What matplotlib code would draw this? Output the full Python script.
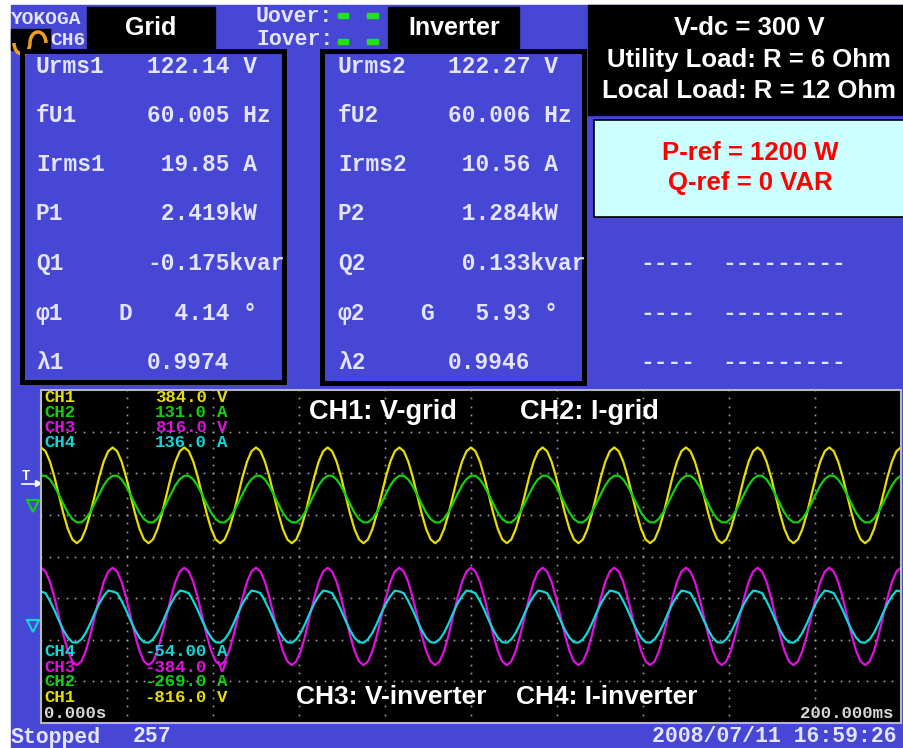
import numpy as np
import matplotlib
matplotlib.use('Agg')
import matplotlib.pyplot as plt
from matplotlib.patches import Rectangle, Arc

# Colours of the power analyzer screen
BLUE = '#4747d5'
TXT = '#e4e4ff'
YEL = '#e6de00'
GRN = '#10d010'
MAG = '#e010e0'
CYN = '#10d8d8'

grid_labels = ['Urms1', 'fU1', 'Irms1', 'P1', 'Q1', 'φ1', 'λ1']
grid_values = ['122.14 V', '60.005 Hz', ' 19.85 A', ' 2.419kW', '-0.175kvar', '  4.14 °', '0.9974']
inv_labels = ['Urms2', 'fU2', 'Irms2', 'P2', 'Q2', 'φ2', 'λ2']
inv_values = ['122.27 V', '60.006 Hz', ' 10.56 A', ' 1.284kW', ' 0.133kvar', '  5.93 °', '0.9946']
row_y = [66, 115, 164, 213, 263, 313, 362]

# Scope channel scale labels
ch_names = ['CH1', 'CH2', 'CH3', 'CH4']
ch_colors = [YEL, GRN, MAG, CYN]
ch_top_values = ['384.0', '131.0', '816.0', '136.0']
ch_units = ['V', 'A', 'V', 'A']
bottom_names = ['CH4', 'CH3', 'CH2', 'CH1']
bottom_colors = [CYN, MAG, GRN, YEL]
bottom_values = ['-54.00', '-384.0', '-269.0', '-816.0']
bottom_units = ['A', 'V', 'A', 'V']

# One cycle of each trace, 16 samples from the screen (vertical divisions)
ch1_cycle = [2.62, 2.53, 2.28, 1.91, 1.47, 1.03, 0.66, 0.41, 0.32, 0.41, 0.66, 1.03, 1.47, 1.91, 2.28, 2.53]
ch2_cycle = [1.94, 1.94, 1.85, 1.69, 1.48, 1.26, 1.05, 0.90, 0.82, 0.82, 0.91, 1.07, 1.28, 1.50, 1.71, 1.86]
ch3_cycle = [-0.27, -0.36, -0.61, -0.99, -1.44, -1.89, -2.27, -2.52, -2.61, -2.52, -2.27, -1.89, -1.44, -0.99, -0.61, -0.36]
ch4_cycle = [-0.84, -0.88, -1.07, -1.29, -1.54, -1.77, -1.95, -2.06, -2.07, -1.99, -1.83, -1.61, -1.36, -1.13, -0.95, -0.82]
period_ms = 16.665   # 60.005 Hz
n_cycles = 13

fig = plt.figure(figsize=(9.04, 7.48), dpi=100)

# background axes in pixel coordinates
bg = fig.add_axes([0, 0, 1, 1])
bg.set_xlim(0, 904)
bg.set_ylim(748, 0)
bg.axis('off')
bg.add_patch(Rectangle((11, 5), 893, 743, color=BLUE))

# header
bg.add_patch(Rectangle((11, 29), 39, 21, color='black'))
bg.add_patch(Arc((22, 43), 16, 22, theta1=0, theta2=180, color='#f0a020', lw=2.5))
bg.add_patch(Arc((38, 43), 16, 22, theta1=180, theta2=360, color='#f0a020', lw=2.5))
bg.text(11, 19, 'YOKOGA', family='Liberation Mono', weight='bold', fontsize=14, color=TXT, va='center')
bg.text(50, 40, 'CH6', family='Liberation Mono', weight='bold', fontsize=14, color=TXT, va='center')
bg.text(256, 16, 'Uover:', family='Liberation Mono', weight='bold', fontsize=15.5, color=TXT, va='center')
bg.text(256, 39, 'Iover:', family='Liberation Mono', weight='bold', fontsize=15.5, color=TXT, va='center')
for yy in [13, 39]:
    bg.add_patch(Rectangle((338, yy), 10, 5, color='#20e020'))
    bg.add_patch(Rectangle((367, yy), 11, 5, color='#20e020'))

bg.add_patch(Rectangle((87, 7), 128, 41, color='black'))
bg.text(151, 28, 'Grid', family='Liberation Sans', weight='bold', fontsize=18, color='white', ha='center', va='center')
bg.add_patch(Rectangle((388, 7), 131, 41, color='black'))
bg.text(454, 28, 'Inverter', family='Liberation Sans', weight='bold', fontsize=18, color='white', ha='center', va='center')

# top right info box
bg.add_patch(Rectangle((588, 5), 316, 110, color='black'))
info = ['V-dc = 300 V', 'Utility Load: R = 6 Ohm', 'Local Load: R = 12 Ohm']
for txt, yy in zip(info, [28, 60, 91]):
    bg.text(749, yy, txt, family='Liberation Sans', weight='bold', fontsize=18.5, color='white', ha='center', va='center')

bg.add_patch(Rectangle((594, 120), 312, 97, fc='#ccffff', ec='black', lw=1.2))
bg.text(750, 153, 'P-ref = 1200 W', family='Liberation Sans', weight='bold', fontsize=18.5, color='#ff0000', ha='center', va='center')
bg.text(750, 183, 'Q-ref = 0 VAR', family='Liberation Sans', weight='bold', fontsize=18.5, color='#ff0000', ha='center', va='center')

# empty rows on the right
for yy in row_y[4:]:
    bg.text(640, yy, '----', family='Liberation Mono', weight='bold', fontsize=16.5, color=TXT, va='center')
    bg.text(722, yy, '---------', family='Liberation Mono', weight='bold', fontsize=16.5, color=TXT, va='center')

# measurement tables
for x_lab, x_val, labels, values in [(36, 147, grid_labels, grid_values), (338, 448, inv_labels, inv_values)]:
    for lab, val, yy in zip(labels, values, row_y):
        bg.text(x_lab, yy, lab, family='Liberation Mono', weight='bold', fontsize=16.5, color=TXT, va='center')
        bg.text(x_val, yy, val, family='Liberation Mono', weight='bold', fontsize=16.5, color=TXT, va='center')
bg.text(125, 313, 'D', family='Liberation Mono', weight='bold', fontsize=16.5, color=TXT, ha='center', va='center')
bg.text(427, 313, 'G', family='Liberation Mono', weight='bold', fontsize=16.5, color=TXT, ha='center', va='center')

# thick black frames around the tables
bg.add_patch(Rectangle((22.5, 50.5), 262, 331, fill=False, ec='black', lw=3.6))
bg.add_patch(Rectangle((322.5, 50.5), 262, 332, fill=False, ec='black', lw=3.6))

# status line
bg.text(11, 737, 'Stopped', family='Liberation Mono', weight='bold', fontsize=15.5, color=TXT, va='center')
bg.text(133, 737, '257', family='Liberation Mono', weight='bold', fontsize=15.5, color=TXT, va='center')
bg.text(897, 737, '2008/07/11 16:59:26', family='Liberation Mono', weight='bold', fontsize=15.5, color=TXT, ha='right', va='center')

# ground / trigger markers left of the scope
bg.text(22, 476, 'T', family='Liberation Mono', weight='bold', fontsize=10, color='white', va='center')
bg.plot([22, 38], [484, 484], color='white', lw=1.2)
bg.plot([38], [483], marker='>', color='white', markersize=5)
for yy, c in [(503, GRN), (623, CYN)]:
    bg.plot([27, 39], [yy - 3, yy - 3], color=c, lw=1.5)
    bg.plot([33], [yy + 3], marker='v', mfc='none', mec=c, markersize=8, mew=1.5)

# scope screen
sc = fig.add_axes([41 / 904, (748 - 723) / 748, 860 / 904, 333 / 748])
sc.set_facecolor('black')
sc.set_xlim(0, 200)
sc.set_ylim(-4, 4)
sc.set_xticks([])
sc.set_yticks([])
for s in sc.spines.values():
    s.set_color('#b8b8b8')
    s.set_linewidth(1.5)

# dotted graticule
dot_x = np.arange(0, 200.1, 2)
for yv in range(-3, 4):
    sc.plot(dot_x, np.full(len(dot_x), yv), ls='none', marker='s', markersize=1.2, mew=0, color='#a0a0a0')
dot_y = np.arange(-4, 4.01, 0.2)
for xv in range(20, 200, 20):
    sc.plot(np.full(len(dot_y), xv), dot_y, ls='none', marker='s', markersize=1.2, mew=0, color='#a0a0a0')

# traces
n = 16 * 12 + 1
t = np.arange(n) * period_ms / 16
for cyc, c in [(ch1_cycle, YEL), (ch2_cycle, GRN), (ch3_cycle, MAG), (ch4_cycle, CYN)]:
    sc.plot(t, np.tile(cyc, n_cycles)[:n], color=c, lw=1.6)

# overlay for text written on the scope
ov = fig.add_axes([0, 0, 1, 1])
ov.set_xlim(0, 904)
ov.set_ylim(748, 0)
ov.axis('off')
ov.patch.set_visible(False)

for name, c, val, unit, yy in zip(ch_names, ch_colors, ch_top_values, ch_units, [397, 412, 427, 442]):
    ov.text(44, yy, name, family='Liberation Mono', weight='bold', fontsize=12.5, color=c, va='center')
    ov.text(207, yy, val, family='Liberation Mono', weight='bold', fontsize=12.5, color=c, ha='right', va='center')
    ov.text(217, yy, unit, family='Liberation Mono', weight='bold', fontsize=12.5, color=c, va='center')
for name, c, val, unit, yy in zip(bottom_names, bottom_colors, bottom_values, bottom_units, [652, 667, 682, 697]):
    ov.text(44, yy, name, family='Liberation Mono', weight='bold', fontsize=12.5, color=c, va='center')
    ov.text(207, yy, val, family='Liberation Mono', weight='bold', fontsize=12.5, color=c, ha='right', va='center')
    ov.text(217, yy, unit, family='Liberation Mono', weight='bold', fontsize=12.5, color=c, va='center')
ov.text(44, 713, '0.000s', family='Liberation Mono', weight='bold', fontsize=12.5, color='#d8d8d8', va='center')
ov.text(893, 713, '200.000ms', family='Liberation Mono', weight='bold', fontsize=12.5, color='#d8d8d8', ha='right', va='center')

ov.text(383, 412, 'CH1: V-grid', family='Liberation Sans', weight='bold', fontsize=19.5, color='white', ha='center', va='center')
ov.text(589, 412, 'CH2: I-grid', family='Liberation Sans', weight='bold', fontsize=19.5, color='white', ha='center', va='center')
ov.text(391, 697, 'CH3: V-inverter', family='Liberation Sans', weight='bold', fontsize=19, color='white', ha='center', va='center')
ov.text(607, 697, 'CH4: I-inverter', family='Liberation Sans', weight='bold', fontsize=19, color='white', ha='center', va='center')

fig.savefig('out.png', dpi=100)
